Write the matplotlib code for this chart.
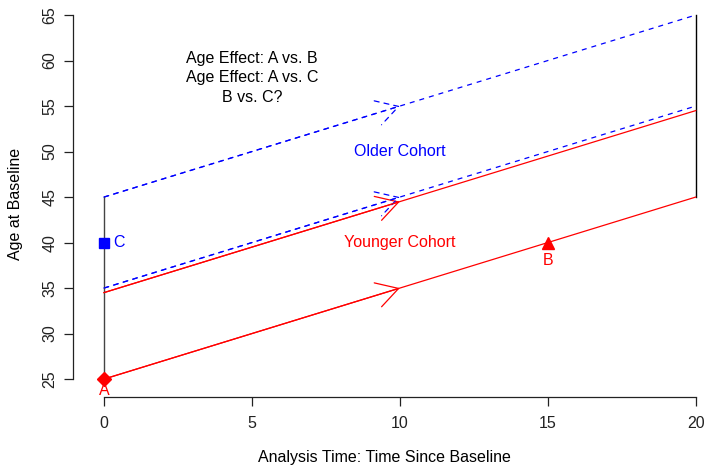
import matplotlib
matplotlib.use("Agg")
import matplotlib.pyplot as plt
from matplotlib.patches import FancyArrowPatch

plt.rcParams['font.family'] = ['Liberation Sans', 'DejaVu Sans']

# Data
t_start, t_mid, t_end = 0, 10, 20
younger_starts = [25, 34.5]
older_starts = [35, 45]
slope = 1.0
x_ticks = [0, 5, 10, 15, 20]
y_ticks = [25, 30, 35, 40, 45, 50, 55, 60, 65]
pt_A = (0, 25)
pt_B = (15, 40)
pt_C = (0, 40)

FS = 11.5

fig = plt.figure(figsize=(7.06, 4.69), dpi=100)
ax = fig.add_axes([0.1038, 0.1529, 0.8816, 0.8247])
ax.set_xlim(-1.036, 20)
ax.set_ylim(23.0, 65.5)

red = '#FF0000'
blue = '#0000FF'

# vertical lines
ax.plot([0, 0], [25, 45], color='#444444', lw=1.0, clip_on=False)
ax.plot([20, 20], [45, 65], color='black', lw=1.0, clip_on=False)

def arrow(x0, y0, x1, y1, color, ls):
    p = FancyArrowPatch((x0, y0), (x1, y1),
                        arrowstyle='->,head_length=15.6,head_width=9',
                        mutation_scale=1, shrinkA=0, shrinkB=0,
                        color=color, lw=0.9, linestyle=ls)
    ax.add_patch(p)

for y0 in younger_starts:
    ax.plot([t_start, t_end], [y0, y0 + slope * (t_end - t_start)], color=red, lw=0.9, clip_on=False)
    arrow(t_start, y0, t_mid, y0 + slope * (t_mid - t_start), red, '-')

for y0 in older_starts:
    ax.plot([t_start, t_end], [y0, y0 + slope * (t_end - t_start)], color=blue, lw=0.9,
            dashes=(4, 4), clip_on=False)
    arrow(t_start, y0, t_mid, y0 + slope * (t_mid - t_start), blue, (0, (4, 4)))

# points
ax.plot(*pt_A, marker='D', ms=7.5, color=red, clip_on=False, zorder=5)
ax.plot(*pt_C, marker='s', ms=6.5, color=blue, clip_on=False, zorder=5)
ax.plot(*pt_B, marker='^', ms=8, color=red, clip_on=False, zorder=5)

ax.text(pt_A[0], pt_A[1] - 0.45, 'A', color=red, fontsize=FS, ha='center', va='top')
ax.text(pt_B[0], pt_B[1] - 1.1, 'B', color=red, fontsize=FS, ha='center', va='top')
ax.text(pt_C[0] + 0.3, pt_C[1], 'C', color=blue, fontsize=FS, ha='left', va='center')

ax.text(5, 58.1, 'Age Effect: A vs. B\nAge Effect: A vs. C\nB vs. C?', fontsize=FS,
        ha='center', va='center', linespacing=1.38)
ax.text(10, 50, 'Older Cohort', color=blue, fontsize=FS, ha='center', va='center')
ax.text(10, 40, 'Younger Cohort', color=red, fontsize=FS, ha='center', va='center')

# axes styling (R-like)
for s in ['top', 'right']:
    ax.spines[s].set_visible(False)
ax.spines['left'].set_bounds(25, 65)
ax.spines['bottom'].set_bounds(0, 20)
for s in ['left', 'bottom']:
    ax.spines[s].set_linewidth(0.9)
    ax.spines[s].set_color('#222222')
ax.set_xticks(x_ticks)
ax.set_yticks(y_ticks)
ax.tick_params(direction='out', length=6.5, width=0.9, labelsize=FS, colors='#222222')
ax.tick_params(axis='x', pad=7)
ax.tick_params(axis='y', pad=5)
for lab in ax.get_yticklabels():
    lab.set_rotation(90)
    lab.set_va('center')
ax.set_xlabel('Analysis Time: Time Since Baseline', fontsize=FS, labelpad=14)
ax.set_ylabel('Age at Baseline', fontsize=FS, labelpad=14)

fig.savefig('out.png', dpi=100)
